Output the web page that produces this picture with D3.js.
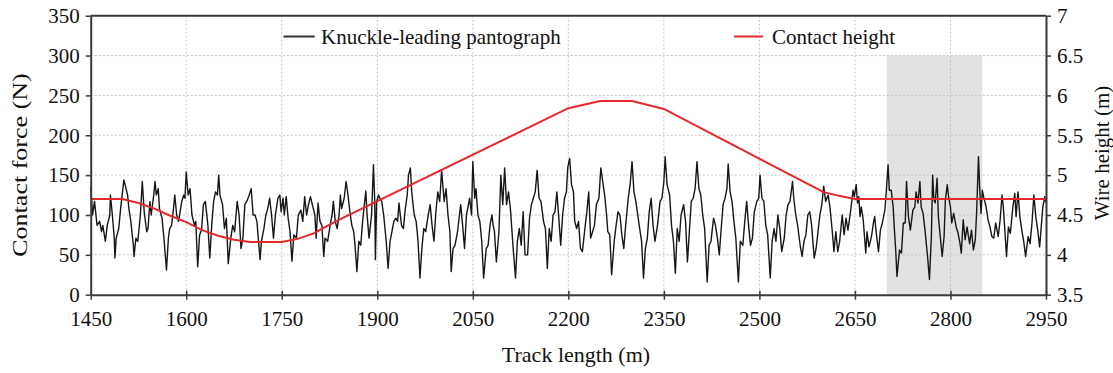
<!DOCTYPE html>
<html><head><meta charset="utf-8">
<script src="https://cdn.jsdelivr.net/npm/d3@7"></script>
<style>
body{margin:0;background:#fff}
svg{display:block}
text{font-family:"Liberation Serif","Times New Roman",serif;fill:#111}
</style>
</head><body><svg id="chart" width="1113" height="373"></svg>
<script>
// ---- data ----
const trackPos = [1450,1453,1456,1460,1464,1467,1469,1473,1476,1480,1481,1484,1487,1488,1490,1494,1497,1500,1502,1504,1508,1510,1513,1517,1518,1521,1524,1528,1531,1534,1538,1540,1543,1545,1549,1551,1553,1556,1558,1562,1565,1569,1572,1574,1577,1580,1582,1585,1588,1593,1596,1598,1600,1603,1606,1609,1613,1615,1618,1621,1624,1627,1630,1634,1637,1640,1643,1646,1649,1651,1653,1657,1660,1663,1666,1670,1673,1676,1680,1683,1686,1689,1692,1695,1698,1702,1705,1708,1711,1714,1716,1718,1722,1725,1728,1731,1734,1737,1740,
1744,1747,1749,1752,1754,1757,1760,1763,1766,1769,1773,1776,1780,1783,1786,1789,1792,1795,1798,1802,1804,1807,1810,1813,1816,1818,1822,1826,1829,1831,1834,1837,1840,1842,1844,1848,1851,1854,1857,1860,1863,1865,1868,1871,1874,1877,1879,1882,1884,1887,1891,1894,1896,1897,1899,1902,1904,1907,1910,1914,1917,1920,1923,1926,1929,1932,1934,1938,1941,1944,1947,1949,1952,1954,1958,1961,1964,1967,1970,1973,1976,1980,1983,1986,1989,1992,1995,1998,2001,2005,2008,2011,2014,2016,2019,2022,2026,2029,2031,2034,2037,2040,
2045,2048,2050,2053,2055,2058,2061,2064,2067,2071,2074,2077,2080,2082,2084,2087,2091,2094,2097,2100,2103,2106,2109,2113,2117,2120,2123,2126,2129,2132,2136,2139,2142,2145,2148,2151,2154,2157,2161,2164,2167,2170,2173,2176,2179,2182,2185,2188,2191,2194,2197,2199,2202,2205,2208,2210,2213,2216,2219,2222,2226,2229,2232,2235,2238,2241,2244,2248,2251,2254,2257,2260,2262,2265,2268,2272,2275,2278,2281,2284,2287,2290,2294,2297,2300,2303,2306,2309,2312,2315,2318,2321,2324,2327,2330,2333,2336,2340,
2344,2347,2350,2352,2355,2359,2362,2365,2368,2371,2374,2377,2381,2384,2387,2390,2393,2396,2399,2402,2405,2408,2411,2414,2418,2421,2424,2428,2431,2434,2437,2440,2443,2446,2449,2451,2454,2457,2460,2463,2467,2470,2474,2477,2480,2483,2486,2489,2492,2496,2499,2501,2504,2507,2510,2513,2517,2520,2523,2526,2529,2532,2535,2539,2542,2545,2548,2552,2554,2557,2560,2564,2567,2570,2573,2576,2579,2582,2586,2589,2592,2595,2598,2601,2604,2608,2611,2614,2617,2620,2623,2626,2630,2633,2636,
2639,2642,2644,2647,2649,2652,2654,2656,2658,2660,2663,2665,2667,2669,2672,2676,2679,2681,2683,2685,2687,2690,2693,2697,2699,2702,2704,2707,2710,2712,2714,2716,2720,2723,2726,2729,2731,2734,2737,2741,2744,2746,2749,2752,2754,2757,2760,2764,2767,2770,2772,2774,2776,2779,2781,2783,2787,2790,2792,2795,2797,2800,2802,2805,2809,2812,2815,2817,2820,2823,2826,2830,2833,2836,2839,2841,2844,2846,2848,2850,2852,2856,2859,2862,2865,2868,2871,2875,2878,2881,2883,2886,2888,2891,2894,2898,2901,2903,2906,2909,2912,2915,2918,2922,2925,2928,2931,2934,2937,2940,2943,2945,2948,2950];
const contactForce = [135,100,117,87,92,79,87,67,87,100,125,100,71,46,71,83,108,129,144,138,125,108,92,62,48,71,67,100,142,104,79,83,117,100,125,142,125,133,108,96,71,31,71,83,87,108,125,100,92,117,125,121,154,125,133,100,87,92,35,75,81,113,117,87,46,87,117,129,125,150,125,113,83,96,39,71,87,79,117,100,58,71,113,117,123,133,100,100,92,62,44,67,83,100,108,121,100,71,100,
121,125,104,121,100,123,96,79,42,75,71,100,106,92,123,100,113,123,113,100,71,115,92,87,48,71,67,87,100,117,92,83,100,125,108,121,142,125,104,87,79,62,29,67,62,92,108,130,100,71,100,163,117,44,117,125,121,117,100,67,33,67,79,92,96,92,115,87,83,108,125,150,159,129,100,92,67,21,58,83,79,100,113,87,67,104,129,117,156,117,133,100,79,29,58,62,79,100,113,87,58,100,
121,100,167,121,133,100,92,67,21,58,62,87,100,87,79,41,79,150,113,159,113,129,108,62,21,67,83,62,104,50,50,96,113,121,129,156,121,117,92,83,33,83,67,100,104,129,96,62,100,121,129,159,171,138,129,92,83,92,58,54,83,104,129,71,79,87,113,121,159,142,125,100,79,75,25,67,87,104,100,75,58,87,121,138,167,129,117,100,83,67,21,58,71,104,121,87,67,87,
117,121,142,173,138,125,87,67,27,83,67,100,113,92,41,79,117,121,133,167,133,125,100,83,16,62,67,96,87,71,50,83,113,121,133,164,129,117,92,71,16,67,62,92,117,87,62,71,104,117,121,150,121,117,87,75,21,67,83,67,100,83,54,71,100,113,117,142,121,100,87,62,48,67,75,100,104,87,46,58,79,100,113,136,117,125,108,83,54,79,54,67,100,75,96,
81,98,110,131,123,138,115,123,98,110,94,73,52,79,60,73,90,98,81,67,54,81,90,106,127,163,131,131,110,81,56,23,56,52,90,90,142,98,81,106,110,129,115,142,110,102,81,48,19,73,150,119,115,146,98,81,48,73,119,138,123,110,90,102,85,77,64,52,94,69,85,64,81,56,69,102,173,131,102,131,123,110,94,85,73,71,90,73,94,125,110,73,48,85,77,110,127,98,129,98,81,67,48,73,64,90,125,98,81,60,90,110,123,115];

const heightPos  = [1450,1500,1525,1550,1575,1600,1625,1650,1675,1700,1750,1775,1800,1825,1850,2200,2250,2300,2350,2600,2625,2650,2950];
const wireHeight = [4.70,4.70,4.65,4.58,4.49,4.41,4.31,4.24,4.19,4.16,4.16,4.20,4.27,4.38,4.48,5.84,5.93,5.93,5.83,4.79,4.74,4.70,4.70];

const shadedRange = [2700, 2850];
const shadedTop = 300;

const xTicks = [1450,1600,1750,1900,2050,2200,2350,2500,2650,2800,2950];
const forceTicks = [0,50,100,150,200,250,300,350];
const heightTicks = [3.5,4,4.5,5,5.5,6,6.5,7];
const heightTickLabels = ["3.5","4","4.5","5","5.5","6","6.5","7"];

const legendLabels = ["Knuckle-leading pantograph","Contact height"];
const axisTitles = {x:"Track length (m)", left:"Contact force (N)", right:"Wire height (m)"};

// ---- layout ----
const L = 90.7, R = 1046, T = 15.7, B = 294.7;
const frameColor = "#3a3a3a";
const svg = d3.select("#chart");

const x = d3.scaleLinear().domain([1450,2950]).range([L,R]);
const yF = d3.scaleLinear().domain([0,350]).range([B,T]);
const yH = d3.scaleLinear().domain([3.5,7]).range([B,T]);

// shaded region
svg.append("rect")
  .attr("x", x(shadedRange[0])).attr("width", x(shadedRange[1]) - x(shadedRange[0]))
  .attr("y", yF(shadedTop)).attr("height", yF(0) - yF(shadedTop))
  .attr("fill", "#e2e2e2");

// grid
const grid = svg.append("g").attr("stroke","#c4c4c4").attr("stroke-width",1).attr("stroke-dasharray","2,2");
forceTicks.filter(d => d > 0 && d < 350).forEach(d => {
  grid.append("line").attr("x1",L).attr("x2",R).attr("y1",yF(d)).attr("y2",yF(d));
});
xTicks.filter(d => d > 1450 && d < 2950).forEach(d => {
  grid.append("line").attr("x1",x(d)).attr("x2",x(d)).attr("y1",T).attr("y2",B);
});

// contact force line
const pts = trackPos.map((p,i) => [p, contactForce[i]]);
svg.append("path").datum(pts)
  .attr("fill","none").attr("stroke","#161616").attr("stroke-width",1.4).attr("stroke-linejoin","round")
  .attr("d", d3.line().x(d => x(d[0])).y(d => yF(d[1])));

// wire height line
const hp = heightPos.map((p,i) => [p, wireHeight[i]]);
svg.append("path").datum(hp)
  .attr("fill","none").attr("stroke","#e8262b").attr("stroke-width",2)
  .attr("d", d3.line().x(d => x(d[0])).y(d => yH(d[1])));

// frame top line
svg.append("line").attr("x1",L).attr("x2",R).attr("y1",T).attr("y2",T)
  .attr("stroke",frameColor).attr("stroke-width",2);

// axes
const fs = 21;
function styleAxis(g){
  g.select(".domain").attr("stroke",frameColor).attr("stroke-width",2);
  g.selectAll(".tick line").attr("stroke",frameColor).attr("stroke-width",1.5);
  g.selectAll(".tick text").style("font-family",'"Liberation Serif","Times New Roman",serif').style("font-size",fs+"px").attr("fill","#111");
}
const gx = svg.append("g").attr("transform",`translate(0,${B})`)
  .call(d3.axisBottom(x).tickValues(xTicks).tickFormat(d3.format("d")).tickSize(5).tickPadding(11).tickSizeOuter(0));
styleAxis(gx);
gx.selectAll(".tick line").attr("y1",-4);

const gl = svg.append("g").attr("transform",`translate(${L},0)`)
  .call(d3.axisLeft(yF).tickValues(forceTicks).tickSize(5).tickPadding(6).tickSizeOuter(0));
styleAxis(gl);

const gr = svg.append("g").attr("transform",`translate(${R},0)`)
  .call(d3.axisRight(yH).tickValues(heightTicks).tickFormat((d,i) => heightTickLabels[i]).tickSize(5).tickPadding(6).tickSizeOuter(0));
styleAxis(gr);

// axis titles
svg.append("text").attr("x",576).attr("y",362).attr("text-anchor","middle")
  .style("font-size","22px").text(axisTitles.x);
svg.append("text").attr("transform","translate(27,165) rotate(-90) scale(1.24,1)").attr("text-anchor","middle")
  .style("font-size","21px").text(axisTitles.left);
svg.append("text").attr("transform","translate(1109,153) rotate(-90)").attr("text-anchor","middle")
  .style("font-size","21px").text(axisTitles.right);

// legend
const legend = [
  {label: legendLabels[0], color:"#333", x1:283.5, x2:314.7, tx:321},
  {label: legendLabels[1], color:"#e8262b", x1:734, x2:763, tx:772}
];
legend.forEach(d => {
  svg.append("line").attr("x1",d.x1).attr("x2",d.x2).attr("y1",36.5).attr("y2",36.5)
    .attr("stroke",d.color).attr("stroke-width",2);
  svg.append("text").attr("x",d.tx).attr("y",43.5).style("font-size","21px").text(d.label);
});
</script>
</body></html>
